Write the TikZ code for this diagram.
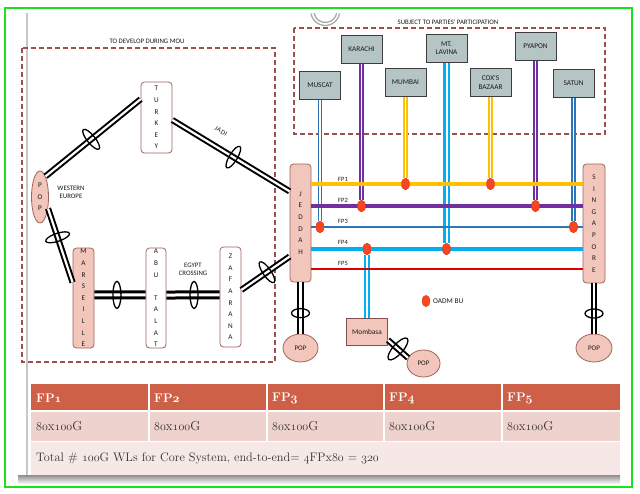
\documentclass[tikz,border=0pt]{standalone}
\usepackage{fontspec}
\newfontfamily\labfont{Carlito}
\usetikzlibrary{shapes.geometric}
\newcommand\osn[1]{{\usefont{OML}{cmm}{m}{it}#1}}
\newcommand\osnb[1]{{\usefont{OML}{cmm}{b}{it}#1}}
\definecolor{grn}{RGB}{30,225,30}
\definecolor{dashc}{RGB}{155,80,80}
\definecolor{cityfill}{RGB}{181,197,197}
\definecolor{cityedge}{RGB}{60,60,60}
\definecolor{pinkf}{RGB}{242,198,186}
\definecolor{pinke}{RGB}{160,100,95}
\definecolor{cfpa}{RGB}{255,192,0}
\definecolor{cfpb}{RGB}{112,48,160}
\definecolor{cfpc}{RGB}{46,117,182}
\definecolor{cfpd}{RGB}{0,176,240}
\definecolor{cfpe}{RGB}{220,0,0}
\definecolor{oadm}{RGB}{250,70,30}
\definecolor{thead}{RGB}{206,96,72}
\definecolor{trowa}{RGB}{238,210,205}
\definecolor{trowb}{RGB}{246,232,230}
\begin{document}
\begin{tikzpicture}[x=1pt,y=-1pt,
 lbl/.style={font=\labfont\fontsize{6.8pt}{7.8pt}\selectfont, text=black!90, inner sep=0pt, align=center},
 vlbl/.style={font=\labfont\fontsize{7.2pt}{11.6pt}\selectfont, text=black!90, align=center, inner sep=0pt},
 city/.style={draw=cityedge, fill=cityfill, line width=1pt, minimum width=41pt, minimum height=28pt, inner sep=0pt, font=\labfont\fontsize{7.3pt}{8.5pt}\selectfont, align=center, text=black!90},
 pbox/.style={vlbl, draw=pinke, fill=pinkf, rounded corners=3.5pt, line width=0.8pt},
 wbox/.style={vlbl, draw=pinke, fill=white, rounded corners=3.5pt, line width=0.8pt},
 pop/.style={ellipse, draw=pinke, fill=pinkf, line width=0.8pt, inner sep=0pt, font=\labfont\fontsize{7pt}{8pt}\selectfont, text=black!90},
 dashbox/.style={draw=dashc, line width=1.3pt, dash pattern=on 5pt off 3pt},
 blink/.style={draw=black, line width=2pt, double=white, double distance=2.2pt},
 blinkthick/.style={draw=black, line width=3pt, double=white, double distance=3pt},
 oval/.style={ellipse, draw=black, line width=1.3pt, minimum width=8pt, minimum height=25pt, inner sep=0pt, sloped},
 vl/.style={line width=1.3pt, double=white, double distance=1.5pt},
 vlw/.style={line width=2.2pt, double=white, double distance=2pt},
 dot/.style={ellipse, fill=oadm, draw=oadm!85!black, line width=0.3pt, minimum width=8pt, minimum height=11.5pt, inner sep=0pt},
 fplbl/.style={font=\labfont\fontsize{6.5pt}{7pt}\selectfont, text=black!90, inner sep=0pt},
 tcell/.style={anchor=west, inner sep=0pt, text=black!80, font=\fontsize{13pt}{15pt}\selectfont},
 thcell/.style={anchor=west, inner sep=0pt, text=white, font=\bfseries\fontsize{12.5pt}{15pt}\selectfont}
]
\useasboundingbox (0,0) rectangle (640,493);
\fill[white] (0,0) rectangle (640,493);
\draw[grn, line width=1.8pt] (5,8) rectangle (632,487);
\draw[black!22, line width=1.5pt] (27,13) -- (27,476);
% top arc
\draw[black!35, line width=1.2pt] (311,13.5) arc[start angle=190, end angle=350, radius=14.5pt];
\draw[black!35, line width=1.2pt] (314,13) arc[start angle=190, end angle=350, radius=11.5pt];
% dashed areas
\draw[dashbox] (22,48) rectangle (275,362);
\draw[dashbox] (294,28) rectangle (605,134);
\node[lbl] (tdev) at (147,41) {TO DEVELOP DURING MOU};
\node[lbl] (tsub) at (448,22) {SUBJECT TO PARTIES' PARTICIPATION};
% cities
\node[city] (muscat) at (320,85) {MUSCAT};
\node[city] (karachi) at (361.5,49) {KARACHI};
\node[city] (mumbai) at (405.5,82.5) {MUMBAI};
\node[city] (mtl) at (446.5,48) {MT.\\LAVINA};
\node[city] (coxs) at (490.5,82.5) {COX'S\\BAZAAR};
\node[city] (pyapon) at (535.5,46.5) {PYAPON};
\node[city] (satun) at (573.5,83.5) {SATUN};
% left nodes
\node[pop, vlbl, minimum width=17pt, minimum height=52pt] (popwe) at (40,197) {P\\O\\P};
\node[wbox, minimum width=31pt, minimum height=71pt] (turkey) at (156.5,117.5) {T\\U\\R\\K\\E\\Y};
\node[pbox, minimum width=21pt, minimum height=100pt] (mars) at (83.5,298) {M\\A\\R\\S\\E\\I\\L\\L\\E};
\node[wbox, minimum width=20pt, minimum height=100pt] (abu) at (156,298) {A\\B\\U\\\mbox{}\\T\\A\\L\\A\\T};
\node[wbox, minimum width=21pt, minimum height=100pt] (zaf) at (230.5,297) {Z\\A\\F\\A\\R\\A\\N\\A};
\node[pbox, minimum width=21pt, minimum height=118pt] (jeddah) at (300.5,223) {J\\E\\D\\D\\A\\H};
\node[pbox, minimum width=22pt, minimum height=119pt] (sing) at (594,223.5) {S\\I\\N\\G\\A\\P\\O\\R\\E};
\node[lbl] (weu) at (71,192) {WESTERN\\EUROPE};
\node[lbl] (egc) at (193,269) {EGYPT\\CROSSING};
\node[lbl, rotate=-33] (jadi) at (221,131) {J\kern0.6pt A\kern0.6pt D\kern0.6pt I};
% POPs and Mombasa
\node[pop, minimum width=35pt, minimum height=28pt] (jpop) at (300.5,348) {POP};
\node[pop, minimum width=36pt, minimum height=28pt] (spop) at (594,348) {POP};
\node[draw=pinke!80!black, fill=pinkf, line width=0.8pt, minimum width=41pt, minimum height=27pt, inner sep=0pt, font=\labfont\fontsize{7.3pt}{8pt}\selectfont, text=black!90] (momb) at (367,332) {Mombasa};
\node[pop, minimum width=33pt, minimum height=27pt] (mpop) at (423.5,363.5) {POP};
% black links
\draw[blink] (popwe.75) -- (turkey.131.5);
\path (popwe.75) -- node[oval, pos=0.48] (ov1) {} (turkey.131.5);
\draw[blink] (turkey.-9) -- (jeddah.109.3);
\path (turkey.-9) -- node[oval, pos=0.52] (ov2) {} (jeddah.109.3);
\draw[blink] (popwe.-55) -- (mars.125);
\path (popwe.-55) -- node[oval, pos=0.39] (ov3) {} (mars.125);
\draw[blinkthick] (mars.16) -- (abu.163.3);
\path (mars.16) -- node[oval, pos=0.44, minimum height=27pt] (ov4) {} (abu.163.3);
\draw[blinkthick] (abu.16.7) -- (zaf.169.2);
\path (abu.16.7) -- node[oval, pos=0.52, minimum height=27pt] (ov5) {} (zaf.169.2);
\draw[blink] (zaf.33.7) -- (jeddah.252.8);
\path (zaf.33.7) -- node[oval, pos=0.53] (ov6) {} (jeddah.252.8);
\draw[blink] (jeddah.south) -- (jpop.north);
\path (jeddah.south) -- node[oval, pos=0.6, minimum height=18pt, minimum width=9pt] (ov7) {} (jpop.north);
\draw[blink] (sing.south) -- (spop.north);
\path (sing.south) -- node[oval, pos=0.6, minimum height=18pt, minimum width=9pt] (ov8) {} (spop.north);
\draw[blink] (momb.-21.8) -- (mpop.160.5);
\path (momb.-21.8) -- node[oval, pos=0.5, minimum height=28pt, minimum width=10pt] (ov9) {} (mpop.160.5);
% OADM dots (anchors)
\node[dot] (d1a) at (405.5,184) {};
\node[dot] (d1b) at (490.5,184) {};
\node[dot] (d2a) at (361.5,206) {};
\node[dot] (d2b) at (535.5,206) {};
\node[dot] (d3a) at (320,227) {};
\node[dot] (d3b) at (573.5,227) {};
\node[dot] (d4a) at (367,249) {};
\node[dot] (d4b) at (446.5,249) {};
\coordinate (y5) at (0,269);
% vertical drops
\draw[vl, draw=cfpc] (muscat) -- (d3a);
\draw[vl, draw=cfpb] (karachi) -- (d2a);
\draw[vl, draw=cfpa] (mumbai) -- (d1a);
\draw[vlw, draw=cfpd] (mtl) -- (d4b);
\draw[vl, draw=cfpa] (coxs) -- (d1b);
\draw[vl, draw=cfpb] (pyapon) -- (d2b);
\draw[vl, draw=cfpc] (satun) -- (d3b);
\draw[vl, line width=1.8pt, double distance=2pt, draw=cfpd] (d4a) -- (momb);
% fibre pairs
\draw[cfpa, line width=3.3pt] (jeddah.east |- d1a) -- (sing.west |- d1a);
\draw[cfpb, line width=3.8pt] (jeddah.east |- d2a) -- (sing.west |- d2a);
\draw[cfpc, line width=2.4pt] (jeddah.east |- d3a) -- (sing.west |- d3a);
\draw[cfpd, line width=3.8pt] (jeddah.east |- d4a) -- (sing.west |- d4a);
\draw[cfpe, line width=2.6pt] (jeddah.east |- y5) -- (sing.west |- y5);
\node[fplbl] (fpa) at (343,179) {FP1};
\node[fplbl] (fpb) at (343,200) {FP2};
\node[fplbl] (fpc) at (343,221) {FP3};
\node[fplbl] (fpd) at (343,242) {FP4};
\node[fplbl] (fpe) at (343,263) {FP5};
% dots on top
\foreach \d/\px/\py in {a/405.5/184, b/490.5/184, c/361.5/206, e/535.5/206, f/320/227, g/573.5/227, h/367/249, i/446.5/249}
  \node[dot] (top\d) at (\px,\py) {};
\node[dot] (legdot) at (426,301) {};
\node[lbl, anchor=west, font=\labfont\fontsize{7.3pt}{8pt}\selectfont] (legtxt) at (433,301) {OADM BU};
% table
\shade[top color=black!45, bottom color=white] (18,475) rectangle (620,484);
\fill[thead] (31,384) rectangle (620,411);
\fill[trowa] (31,411) rectangle (620,441);
\fill[trowb] (31,441) rectangle (620,475);
\draw[white, line width=1.5pt] (31,411) -- (620,411);
\draw[white, line width=1pt] (31,441) -- (620,441);
\foreach \cx in {149,267,384,502} \draw[white, line width=1.5pt] (\cx,384) -- (\cx,441);
\node[thcell] (ha) at (36,398) {FP\osnb{1}};
\node[thcell] (hb) at (154,398) {FP\osnb{2}};
\node[thcell] (hc) at (272,398) {FP\osnb{3}};
\node[thcell] (hd) at (389,398) {FP\osnb{4}};
\node[thcell] (he) at (507,398) {FP\osnb{5}};
\node[tcell] (ra) at (36,426) {\osn{80}x\osn{100}G};
\node[tcell] (rb) at (154,426) {\osn{80}x\osn{100}G};
\node[tcell] (rc) at (272,426) {\osn{80}x\osn{100}G};
\node[tcell] (rd) at (389,426) {\osn{80}x\osn{100}G};
\node[tcell] (re) at (507,426) {\osn{80}x\osn{100}G};
\node[tcell, font=\fontsize{12.3pt}{15pt}\selectfont] (tot) at (36,458) {Total \# \osn{100}G WLs for Core System, end-to-end= \osn{4}FPx\osn{80} = \osn{320}};
\end{tikzpicture}
\end{document}
